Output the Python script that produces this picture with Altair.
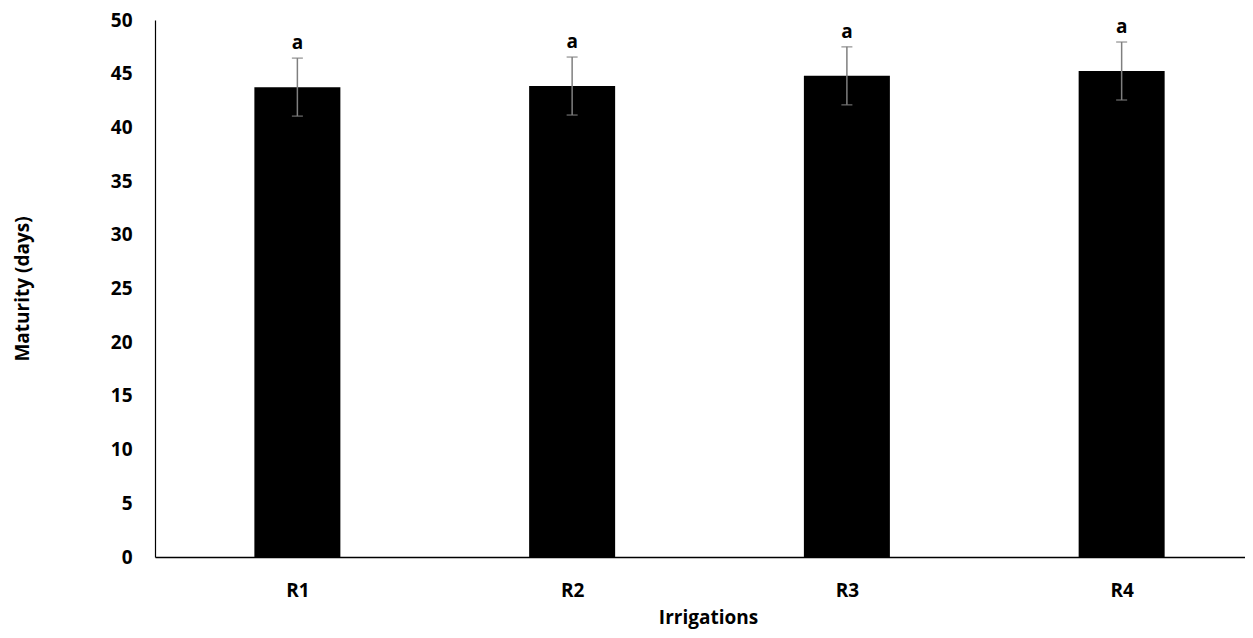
import json
import altair as alt
import pandas as pd

categories = ["R1", "R2", "R3", "R4"]
means = [43.75, 43.85, 44.8, 45.25]
errors = [2.7, 2.7, 2.7, 2.7]
letters = ["a", "a", "a", "a"]

df = pd.DataFrame({
    "cat": categories,
    "pos": [i + 0.5 for i in range(len(categories))],
    "mean": means,
    "lo": [m - e for m, e in zip(means, errors)],
    "hi": [m + e for m, e in zip(means, errors)],
    "letter": letters,
})

W = 1090
H = 537
STEP = 277.3
FONT = "Open Sans"
FS = 19

label_expr = json.dumps(categories) + "[floor(datum.value)]"

xscale = alt.Scale(domain=[0, W / STEP], nice=False, zero=False)
yscale = alt.Scale(domain=[0, 50], nice=False)

xaxis = alt.Axis(
    values=[i + 0.5 for i in range(len(categories))],
    labelExpr=label_expr,
    ticks=False, grid=False, domainColor="#000000", domainWidth=1.5,
    labelFont=FONT, labelFontWeight="bold", labelFontSize=FS, labelColor="#000000",
    labelPadding=24,
    title="Irrigations", titleFont=FONT, titleFontWeight="bold", titleFontSize=FS,
    titleColor="#000000", titleX=553, titleY=66, titleBaseline="alphabetic",
    titleAlign="center",
)
yaxis = alt.Axis(
    values=list(range(0, 51, 5)),
    ticks=False, grid=False, domainColor="#000000", domainWidth=1.2,
    labelFont=FONT, labelFontWeight="bold", labelFontSize=FS, labelColor="#000000",
    labelPadding=23,
    title="Maturity (days)", titleFont=FONT, titleFontWeight="bold", titleFontSize=FS,
    titleColor="#000000", titleX=-133, titleY=H / 2, titleAngle=-90,
    titleAlign="center", titleBaseline="middle",
)

X = alt.X("pos:Q", scale=xscale, axis=xaxis)

base = alt.Chart(df)

bars = base.mark_bar(width=86, color="#000000").encode(
    x=X,
    y=alt.Y("mean:Q", scale=yscale, axis=yaxis),
)

err = base.mark_rule(color="#7f7f7f", strokeWidth=1.5).encode(
    x=X,
    y=alt.Y("lo:Q", scale=yscale, axis=yaxis),
    y2="hi:Q",
)

caps_hi = base.mark_tick(color="#7f7f7f", orient="horizontal", size=11, thickness=1.5).encode(
    x=X, y=alt.Y("hi:Q", scale=yscale, axis=yaxis),
)
caps_lo = base.mark_tick(color="#7f7f7f", orient="horizontal", size=11, thickness=1.5).encode(
    x=X, y=alt.Y("lo:Q", scale=yscale, axis=yaxis),
)

text = base.mark_text(
    font=FONT, fontWeight="bold", fontSize=FS, color="#000000",
    baseline="middle", dy=-15,
).encode(
    x=X, y=alt.Y("hi:Q", scale=yscale, axis=yaxis), text="letter:N",
)

chart = (
    alt.layer(bars, err, caps_hi, caps_lo, text)
    .properties(
        width=W, height=H,
        autosize=alt.AutoSizeParams(type="none"),
        padding={"left": 147, "top": 12, "right": 0, "bottom": 72},
    )
    .configure_view(stroke=None)
)

chart.save("out.html", embed_options={"renderer": "svg", "actions": False})
